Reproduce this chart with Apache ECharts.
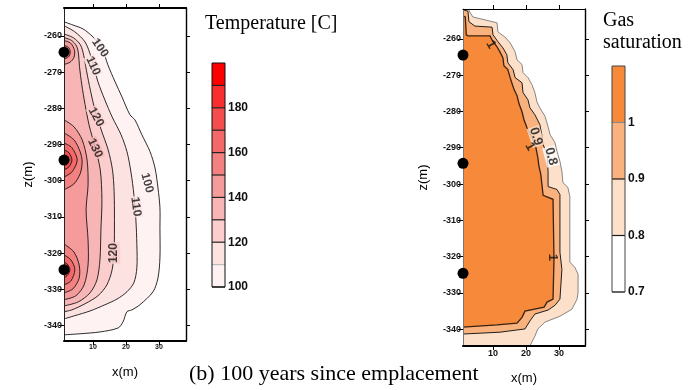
<!DOCTYPE html>
<html>
<head>
<meta charset="utf-8">
<title>Temperature and gas saturation after 100 years</title>
<script src="https://cdn.jsdelivr.net/npm/echarts@6/dist/echarts.min.js"></script>
<style>
html, body { margin: 0; padding: 0; background: #fff; }
#chart { width: 692px; height: 390px; }
</style>
</head>
<body>
<div id="chart"></div>
<script>
// ---- Section geometry (metres) ----
const xRangeT = [1.2, 38.2];
const zRangeT = [-344.3, -252.3];
const xRangeS = [0.9, 37.9];
const zRangeS = [-344.6, -251.8];
const xTicks = [10, 20, 30];
const zTicks = [-340, -330, -320, -310, -300, -290, -280, -270, -260];
const driftDepths = [-264.5, -294.3, -324.6];

// ---- Temperature contours, [x, z]; every line starts and ends on the drift wall ----
const T100 = [[1.2,-256.1],[3.9,-257.0],[7.0,-258.1],[10.0,-260.3],[12.7,-263.3],[14.5,-268.0],[16.7,-272.7],[18.8,-276.9],[21.2,-281.8],[22.7,-283.2],[24.8,-287.3],[27.3,-292.0],[28.8,-296.5],[29.7,-302.0],[30.3,-307.5],[30.3,-313.0],[30.3,-321.3],[29.7,-326.9],[28.2,-330.7],[24.2,-334.3],[21.8,-335.7],[20.3,-336.2],[19.1,-339.0],[17.6,-340.7],[12.1,-341.8],[6.1,-342.3],[1.2,-342.6]];
const T110 = [[1.2,-257.2],[4.5,-258.9],[7.6,-261.7],[9.4,-265.8],[11.5,-272.7],[13.6,-277.7],[15.8,-282.4],[18.5,-287.3],[20.3,-292.0],[21.5,-297.6],[22.4,-303.9],[23.0,-310.8],[23.3,-317.7],[23.3,-324.1],[22.4,-328.2],[20.3,-330.7],[17.3,-332.7],[13.6,-334.3],[9.1,-336.0],[4.5,-337.3],[1.2,-338.2]];
const T120 = [[1.2,-259.5],[4.0,-260.5],[6.2,-262.5],[7.2,-265.5],[8.0,-269.5],[9.2,-275.0],[10.6,-280.5],[12.5,-286.0],[14.6,-291.5],[15.9,-297.0],[16.4,-303.0],[16.5,-310.8],[16.4,-319.1],[15.8,-324.6],[14.2,-328.8],[11.5,-331.8],[7.6,-334.0],[3.6,-335.7],[1.2,-336.2]];
const T130 = [[1.2,-260.5],[3.4,-261.2],[5.0,-262.8],[5.6,-265.0],[5.9,-268.5],[6.6,-273.5],[7.6,-279.0],[8.8,-284.6],[10.6,-290.7],[12.2,-297.0],[12.7,-305.3],[12.4,-313.6],[12.1,-321.9],[11.2,-327.4],[9.1,-331.0],[5.5,-333.5],[1.2,-334.6]];
const T140a = [[1.2,-261.3],[3.2,-262.0],[4.4,-264.0],[4.2,-266.0],[3.0,-267.3],[1.2,-267.9]];
const T140b = [[1.2,-283.2],[4.2,-285.1],[6.7,-288.7],[8.2,-294.3],[8.5,-301.2],[7.9,-308.1],[8.5,-316.4],[8.5,-323.3],[7.3,-328.8],[4.8,-331.8],[1.2,-332.9]];
const T150a = [[1.2,-262.6],[2.6,-263.2],[3.1,-264.5],[2.6,-265.8],[1.2,-266.4]];
const T150b = [[1.2,-286.8],[4.2,-288.7],[6.1,-292.0],[6.7,-294.8],[6.1,-298.1],[4.2,-300.9],[1.2,-302.5]];
const T150c = [[1.2,-317.5],[4.2,-319.7],[5.8,-323.3],[5.8,-326.9],[3.9,-329.9],[1.2,-331.0]];
const T160b = [[1.2,-289.6],[3.6,-290.9],[5.2,-294.3],[3.6,-297.6],[1.2,-299.0]];
const T160c = [[1.2,-320.5],[3.3,-321.9],[4.5,-324.6],[3.3,-327.7],[1.2,-328.8]];
const T170b = [[1.2,-291.5],[2.7,-292.3],[3.6,-294.3],[2.7,-296.2],[1.2,-297.0]];
const T170c = [[1.2,-322.4],[2.4,-323.3],[3.0,-324.6],[2.4,-326.0],[1.2,-326.9]];
const T180b = [[1.2,-292.9],[2.3,-293.4],[2.7,-294.3],[2.3,-295.2],[1.2,-295.7]];

// ---- Temperature scale ----
const tempBands = [100, 110, 120, 130, 140, 150, 160, 170, 180, 190];
const tempTop = 200;
const tempBandColors = ['#fff2f2', '#fde2e2', '#fbcdcd', '#f8b5b5', '#f69b9b', '#f48181', '#f36868', '#f54d4d', '#f92f2f', '#ff0000'];
const tempBarTicks = [100, 120, 140, 160, 180];

// ---- Temperature contour labels ----
const tempLabelPos = [[12.1,-263.3],[10.0,-268.3],[10.9,-282.4],[10.6,-291.0],[26.4,-300.6],[23.0,-307.2],[16.4,-320.0]];
const tempLabelText = ['100', '110', '120', '130', '100', '110', '120'];
const tempLabelAngle = [-55, -65, -62, -65, -75, -82, 90];

// ---- Gas saturation contours, [x, z] ----
const S08 = [[0.9,-251.8],[2.4,-251.8],[3.9,-254.0],[7.6,-254.8],[11.2,-255.6],[11.5,-258.1],[13.6,-259.5],[15.2,-261.1],[16.7,-263.6],[17.3,-265.8],[18.8,-267.1],[19.1,-269.3],[20.6,-270.7],[21.8,-272.6],[22.7,-274.8],[23.3,-277.3],[24.2,-279.0],[25.8,-281.4],[26.7,-284.2],[27.3,-286.4],[28.8,-288.6],[29.4,-291.0],[30.3,-293.8],[30.9,-296.5],[31.2,-299.6],[32.7,-300.9],[33.3,-303.4],[33.3,-321.5],[34.8,-322.9],[35.8,-324.8],[35.8,-329.8],[35.5,-331.7],[33.9,-334.5],[30.3,-336.4],[25.8,-338.0],[23.6,-339.9],[22.7,-341.9],[21.8,-343.5],[21.2,-344.6],[0.9,-344.6]];
const S09 = [[0.9,-252.0],[2.4,-252.4],[2.7,-255.3],[4.5,-256.5],[9.7,-256.8],[10.0,-258.9],[11.5,-260.8],[13.0,-262.5],[14.2,-264.4],[14.5,-266.6],[16.1,-268.5],[16.7,-270.7],[18.8,-272.1],[19.1,-274.8],[20.6,-276.8],[21.2,-279.0],[22.7,-280.9],[24.2,-283.6],[24.8,-286.4],[25.2,-289.1],[26.4,-291.9],[26.7,-296.5],[26.7,-300.7],[29.4,-301.5],[30.3,-302.9],[30.3,-318.8],[30.9,-323.5],[30.3,-331.7],[28.8,-333.4],[26.7,-334.7],[22.7,-335.8],[21.2,-337.7],[19.7,-339.9],[12.1,-340.8],[0.9,-341.3]];
const S10 = [[0.9,-253.7],[1.6,-254.0],[1.9,-258.9],[2.4,-259.2],[9.1,-259.2],[9.7,-260.3],[11.2,-262.2],[12.1,-263.6],[13.0,-265.2],[13.3,-267.4],[14.5,-268.5],[15.2,-270.7],[15.8,-272.4],[16.4,-274.0],[17.3,-275.7],[17.9,-277.9],[18.8,-280.1],[19.4,-282.3],[20.3,-284.5],[21.2,-286.1],[22.1,-287.7],[23.0,-289.9],[23.6,-292.7],[23.9,-294.9],[24.5,-297.4],[25.2,-303.1],[28.2,-304.2],[28.5,-320.7],[28.2,-331.7],[26.4,-332.5],[25.5,-333.9],[19.7,-335.0],[18.8,-336.7],[17.3,-338.3],[11.2,-338.8],[0.9,-339.4]];

// ---- Gas saturation scale ----
const gasBands = [0.7, 0.8, 0.9, 1.0];
const gasTop = 1.1;
const gasBandColors = ['#ffffff', '#fde0ca', '#f9b27e', '#f6893a'];
const gasBarTicks = [0.7, 0.8, 0.9, 1];

// ---- Gas saturation contour labels ----
const gasLabelPos = [[9.4,-261.6],[23.0,-286.9],[21.2,-289.7],[27.6,-292.4],[28.2,-320.2]];
const gasLabelText = ['1', '0.9', '1', '0.8', '1'];
const gasLabelAngle = [-60, -72, -60, -75, -90];

// ---- Assemble ----
const tempContours = [[100,T100],[110,T110],[120,T120],[130,T130],[140,T140a],[140,T140b],[150,T150a],[150,T150b],[150,T150c],[160,T160b],[160,T160c],[170,T170b],[170,T170c],[180,T180b]];
const gasContours = [[0.8,S08],[0.9,S09],[1.0,S10]];

const tempColor = lvl => tempBandColors[tempBands.indexOf(lvl)];
const gasColor = lvl => gasBandColors[gasBands.indexOf(lvl)];
const gasLineColor = { 0.8: '#6a6a6a', 0.9: '#1e1e1e', 1: '#3a2210' };
const gasLineWidth = { 0.8: 0.8, 0.9: 1, 1: 1.3 };

const SANS = 'Liberation Sans';

// filled regions: each contour is closed just outside the wall, then clipped to the grid
function fillSeries(axisIdx, rings, colorOf, smooth, wallX) {
  return {
    type: 'custom', xAxisIndex: axisIdx, yAxisIndex: axisIdx, clip: true, silent: true, z: 1,
    data: rings.map((r, i) => [r[1][0][0], r[1][0][1], i]),
    renderItem: (params, api) => {
      const [lvl, pts] = rings[params.dataIndex];
      const a = pts[0], b = pts[pts.length - 1];
      const closed = pts.concat([[wallX - 3, b[1]], [wallX - 3, a[1]]]);
      return {
        type: 'polygon',
        shape: { points: closed.map(p => api.coord(p)), smooth: smooth },
        style: { fill: colorOf(lvl), stroke: null }
      };
    }
  };
}

function lineSeries(axisIdx, rings, strokeOf, widthOf, smooth) {
  return {
    type: 'custom', xAxisIndex: axisIdx, yAxisIndex: axisIdx, clip: true, silent: true, z: 2,
    data: rings.map((r, i) => [r[1][0][0], r[1][0][1], i]),
    renderItem: (params, api) => {
      const [lvl, pts] = rings[params.dataIndex];
      return {
        type: 'polyline',
        shape: { points: pts.map(p => api.coord(p)), smooth: smooth },
        style: { fill: null, stroke: strokeOf(lvl), lineWidth: widthOf(lvl) }
      };
    }
  };
}

function labelSeries(axisIdx, pos, text, angle, bgOf, fontSize) {
  return {
    type: 'scatter', xAxisIndex: axisIdx, yAxisIndex: axisIdx, symbolSize: 1, silent: true, z: 4,
    itemStyle: { color: 'rgba(0,0,0,0)' },
    emphasis: { disabled: true },
    label: { show: true, position: 'inside', fontFamily: SANS, fontSize: fontSize, fontWeight: 'bold', color: '#111', padding: [0, 1] },
    data: pos.map((p, i) => ({
      value: p,
      label: { formatter: text[i], rotate: angle[i], backgroundColor: bgOf(text[i]) }
    }))
  };
}

function barSeries(axisIdx, bands, top, colors, sepColors) {
  return {
    type: 'custom', xAxisIndex: axisIdx, yAxisIndex: axisIdx, silent: true, z: 2,
    data: bands.map((b, i) => [0, b, i]),
    renderItem: (params, api) => {
      const i = params.dataIndex;
      const lo = bands[i], hi = i + 1 < bands.length ? bands[i + 1] : top;
      const p0 = api.coord([0, hi]), p1 = api.coord([1, lo]);
      return {
        type: 'group',
        children: [
          { type: 'rect', shape: { x: p0[0], y: p0[1], width: p1[0] - p0[0], height: p1[1] - p0[1] }, style: { fill: colors[i], stroke: null } },
          { type: 'line', shape: { x1: p0[0], y1: p1[1], x2: p1[0], y2: p1[1] }, style: { stroke: sepColors[i], lineWidth: 1.2 } }
        ]
      };
    }
  };
}

function driftSeries(axisIdx, wallX) {
  return {
    type: 'scatter', xAxisIndex: axisIdx, yAxisIndex: axisIdx, silent: true, clip: false, z: 8, symbolSize: 11,
    itemStyle: { color: '#000', opacity: 1 }, emphasis: { disabled: true },
    data: driftDepths.map(z => [wallX, z])
  };
}

const tickText = { fontFamily: SANS, fontWeight: 'bold', color: '#111' };
function axis(extra) {
  return Object.assign({
    type: 'value', z: 6,
    splitLine: { show: false },
    axisLine: { show: false, onZero: false },
    axisTick: { show: false },
    axisLabel: { show: false }
  }, extra);
}
function frameLine(width, color) { return { show: true, onZero: false, lineStyle: { color: color || '#000', width: width } }; }
function ticks(values, len) { return { show: true, customValues: values, length: len, lineStyle: { color: '#000', width: 1 } }; }

function plotAxes(gridIndex, xr, zr, xLabelSize, xNameGap, yNameGap) {
  return {
    x: [
      axis({ gridIndex, position: 'bottom', min: xr[0], max: xr[1],
        axisLine: frameLine(2), axisTick: ticks(xTicks, 4),
        axisLabel: Object.assign({ show: true, customValues: xTicks, fontSize: xLabelSize, margin: 3 }, tickText),
        name: 'x(m)', nameLocation: 'middle', nameGap: xNameGap,
        nameTextStyle: { fontFamily: SANS, fontSize: 13, color: '#000' } }),
      axis({ gridIndex, position: 'top', min: xr[0], max: xr[1],
        axisLine: frameLine(gridIndex === 0 ? 2 : 1.2), axisTick: ticks(xTicks, 4) })
    ],
    y: [
      axis({ gridIndex, position: 'left', min: zr[0], max: zr[1],
        axisLine: frameLine(1, gridIndex === 0 ? '#222' : '#777'), axisTick: ticks(zTicks, 5),
        axisLabel: Object.assign({ show: true, customValues: zTicks, fontSize: 9, margin: 2 }, tickText),
        name: 'z(m)', nameLocation: 'middle', nameRotate: 90, nameGap: yNameGap,
        nameTextStyle: { fontFamily: SANS, fontSize: 13, color: '#000' } }),
      axis({ gridIndex, position: 'right', min: zr[0], max: zr[1],
        axisLine: frameLine(1.4), axisTick: ticks(zTicks, 4) })
    ]
  };
}

const leftAxes = plotAxes(0, xRangeT, zRangeT, 7, 25, 29);
const rightAxes = plotAxes(1, xRangeS, zRangeS, 9, 26, 33);

const barLabel = Object.assign({ show: true, fontSize: 12, margin: 3 }, tickText);

const option = {
  animation: false,
  backgroundColor: '#fff',
  grid: [
    { left: 64, top: 8, width: 122, height: 333 },
    { left: 463, top: 9, width: 122, height: 337 },
    { left: 212, top: 63, width: 13, height: 224, show: true, borderColor: '#111', borderWidth: 1, z: 5 },
    { left: 612, top: 66, width: 13, height: 226, show: true, borderColor: '#444', borderWidth: 1, z: 5 }
  ],
  xAxis: [
    leftAxes.x[0], leftAxes.x[1], rightAxes.x[0], rightAxes.x[1],
    axis({ gridIndex: 2, min: 0, max: 1, show: false }),
    axis({ gridIndex: 3, min: 0, max: 1, show: false })
  ],
  yAxis: [
    leftAxes.y[0], leftAxes.y[1], rightAxes.y[0], rightAxes.y[1],
    axis({ gridIndex: 2, position: 'right', min: tempBands[0], max: tempTop,
      axisLabel: Object.assign({ customValues: tempBarTicks }, barLabel) }),
    axis({ gridIndex: 3, position: 'right', min: gasBands[0], max: gasTop,
      axisLabel: Object.assign({ customValues: gasBarTicks, formatter: v => (v === 1 ? '1' : v.toFixed(1)) }, barLabel) })
  ],
  series: [
    // temperature section (axes 0)
    fillSeries(0, tempContours, tempColor, 0.3, xRangeT[0]),
    lineSeries(0, tempContours, () => '#151515', () => 0.9, 0.3),
    labelSeries(0, tempLabelPos, tempLabelText, tempLabelAngle, t => tempColor(Number(t)), 12),
    driftSeries(0, xRangeT[0]),
    // gas saturation section (axes 2)
    fillSeries(2, gasContours, gasColor, 0, xRangeS[0]),
    lineSeries(2, gasContours, l => gasLineColor[l], l => gasLineWidth[l], 0),
    labelSeries(2, gasLabelPos, gasLabelText, gasLabelAngle,
      t => (t === '0.9' ? gasBandColors[1] : t === '0.8' ? gasBandColors[0] : 'transparent'), 13),
    driftSeries(2, xRangeS[0]),
    // colour scales
    barSeries(4, tempBands, tempTop, tempBandColors,
      ['#111', '#bbbbbb', '#222', '#222', '#222', '#222', '#222', '#222', '#222', '#222']),
    barSeries(5, gasBands, gasTop, gasBandColors, ['#333', '#1a1a1a', '#1a1a1a', '#8a8a8a'])
  ],
  graphic: [
    { type: 'text', left: 205, top: 14, style: { text: 'Temperature [C]', font: '20px "Liberation Serif"', fill: '#000' } },
    { type: 'text', left: 603, top: 10, style: { text: 'Gas\nsaturation', font: '20px "Liberation Serif"', lineHeight: 22, fill: '#000' } },
    { type: 'text', left: 189, top: 363, style: { text: '(b) 100 years since emplacement', font: '22px "Liberation Serif"', fill: '#000' } }
  ]
};

const chart = echarts.init(document.getElementById('chart'), null, { renderer: 'canvas' });
chart.setOption(option);
</script>
</body>
</html>
